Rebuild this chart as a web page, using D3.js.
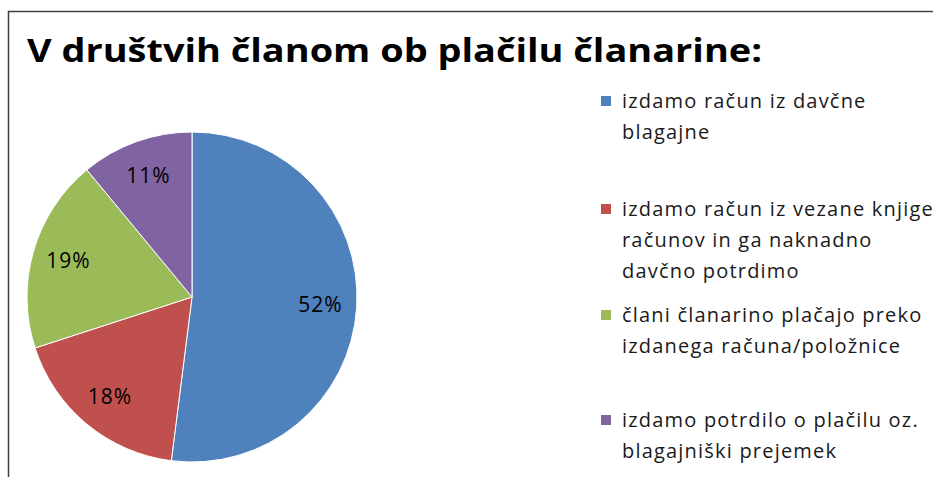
<!DOCTYPE html>
<html>
<head>
<meta charset="utf-8">
<script src="https://cdn.jsdelivr.net/npm/d3@7"></script>
<style>
body { margin: 0; background: #fff; }
text { font-family: "Open Sans", "DejaVu Sans", sans-serif; }
</style>
</head>
<body>
<script>
// data
var categories = [
    ["izdamo račun iz davčne", "blagajne"],
    ["izdamo račun iz vezane knjige", "računov in ga naknadno", "davčno potrdimo"],
    ["člani članarino plačajo preko", "izdanega računa/položnice"],
    ["izdamo potrdilo o plačilu oz.", "blagajniški prejemek"]
];
var values = [52, 18, 19, 11];
var colors = ["#4F81BD", "#C0504D", "#9BBB59", "#8064A2"];
var titleText = "V društvih članom ob plačilu članarine:";

var w = 933, h = 477;
var svg = d3.select("body").append("svg")
    .attr("width", w)
    .attr("height", h);

svg.append("rect")
    .attr("width", w).attr("height", h)
    .style("fill", "#fff");

// chart frame, cut off at right and bottom
svg.append("rect")
    .attr("x", 8.5).attr("y", 11.5)
    .attr("width", 1000).attr("height", 600)
    .style("fill", "none")
    .style("stroke", "#404040")
    .style("stroke-width", 1.5);

var title = svg.append("text")
    .attr("x", 27).attr("y", 62)
    .style("font-weight", "bold")
    .style("font-size", "33px")
    .style("fill", "#000")
    .text(titleText);
// squeeze to the width seen in the picture
title.attr("textLength", 735).attr("lengthAdjust", "spacingAndGlyphs");

var cx = 192, cy = 297, r = 165;

var pie = d3.pie().sort(null).value(function(d){ return d; });
var arc = d3.arc().innerRadius(0).outerRadius(r);
var labelArc = d3.arc().innerRadius(r * 0.78).outerRadius(r * 0.78);

var g = svg.append("g").attr("transform", "translate(" + cx + "," + cy + ")");
var arcs = pie(values);

g.selectAll(".slice")
    .data(arcs)
    .enter()
    .append("path")
    .attr("class", "slice")
    .attr("d", arc)
    .style("fill", function(d, i){ return colors[i]; })
    .style("stroke", "#fff")
    .style("stroke-width", 1);

g.selectAll(".pct")
    .data(arcs)
    .enter()
    .append("text")
    .attr("class", "pct")
    .attr("transform", function(d){ return "translate(" + labelArc.centroid(d) + ")"; })
    .attr("text-anchor", "middle")
    .attr("dy", "0.35em")
    .style("font-size", "21px")
    .style("letter-spacing", "1px")
    .style("fill", "#000")
    .text(function(d){ return d.data + "%"; });

// legend
var legendY = [101, 209, 315, 420];
var legend = svg.selectAll(".legend")
    .data(categories)
    .enter()
    .append("g")
    .attr("class", "legend")
    .attr("transform", function(d, i){ return "translate(601," + legendY[i] + ")"; });

legend.append("rect")
    .attr("x", 0).attr("y", -5)
    .attr("width", 10).attr("height", 10)
    .style("fill", function(d, i){ return colors[i]; });

legend.append("text")
    .attr("x", 21)
    .style("font-size", "20px")
    .style("letter-spacing", "1.2px")
    .style("fill", "#1a1a1a")
    .selectAll("tspan")
    .data(function(d){ return d; })
    .enter()
    .append("tspan")
    .attr("x", 21)
    .attr("dy", function(d, i){ return i === 0 ? "0.35em" : "31"; })
    .text(function(d){ return d; });
</script>
</body>
</html>
